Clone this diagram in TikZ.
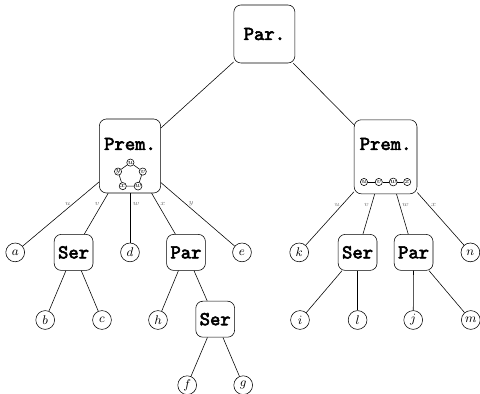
\documentclass[tikz,border=0pt]{standalone}
\usepackage{fontspec}
\newfontfamily\opfont{lmmono10-regular.otf}[FakeBold=3]
\tikzset{
  op/.style={draw, rounded corners=5pt, minimum width=0.97cm, minimum height=0.9cm,
    inner sep=1pt, font=\opfont\fontsize{14}{16}\selectfont},
  optext/.style={inner sep=0pt, font=\opfont\fontsize{14}{16}\selectfont},
  leaf/.style={draw, circle, minimum size=0.47cm, inner sep=0pt, font=\small},
  dot/.style={draw, circle, minimum size=0.18cm, inner sep=0pt, font=\fontsize{3.5}{4}\selectfont},
  lbl/.style={inner sep=1.5pt, text=black!55, font=\fontsize{5.5}{6}\selectfont},
}
\begin{document}
\begin{tikzpicture}
        \useasboundingbox (0,0) rectangle (12,-9.85);

        % root and the two prime nodes
        \node[op, minimum width=1.525cm, minimum height=1.45cm] (par) at ( 6.61,-0.85) {Par.};
        \node[op, minimum width=1.53cm, minimum height=1.85cm] (premL) at ( 3.25,-3.90) {};
        \node[op, minimum width=1.57cm, minimum height=1.85cm] (premR) at ( 9.64,-3.92) {};
        \node[optext] (premLt) at ( 3.25,-3.60) {Prem.};
        \node[optext] (premRt) at ( 9.64,-3.60) {Prem.};

        % quotient graphs inside the prime nodes
        \foreach \n/\a in {u/90,v/18,w/-54,x/-126,y/162}
          \path (3.26,-4.39) ++(\a:0.325) node[dot] (gL\n) {$\n$};
        \draw (gLu) -- (gLv) -- (gLw) -- (gLx) -- (gLy) -- (gLu);

        \node[dot] (gRu) at ( 9.10,-4.55) {$u$};
        \node[dot] (gRv) at ( 9.47,-4.55) {$v$};
        \node[dot] (gRw) at ( 9.83,-4.55) {$w$};
        \node[dot] (gRx) at (10.18,-4.55) {$x$};
        \draw (gRu) -- (gRv) -- (gRw) -- (gRx);

        % second level
        \node[leaf] (a)    at ( 0.38,-6.31) {$a$};
        \node[op]   (serL) at ( 1.84,-6.31) {Ser};
        \node[leaf] (d)    at ( 3.25,-6.31) {$d$};
        \node[op]   (parL) at ( 4.65,-6.31) {Par};
        \node[leaf] (e)    at ( 6.05,-6.31) {$e$};
        \node[leaf] (k)    at ( 7.48,-6.31) {$k$};
        \node[op]   (serR) at ( 8.94,-6.31) {Ser};
        \node[op]   (parR) at (10.34,-6.31) {Par};
        \node[leaf] (n)    at (11.76,-6.31) {$n$};

        % third level
        \node[leaf] (b)     at ( 1.13,-8.00) {$b$};
        \node[leaf] (c)     at ( 2.55,-8.00) {$c$};
        \node[leaf] (h)     at ( 3.95,-8.00) {$h$};
        \node[op]   (serL2) at ( 5.38,-7.98) {Ser};
        \node[leaf] (i)     at ( 7.50,-8.00) {$i$};
        \node[leaf] (l)     at ( 8.94,-8.00) {$l$};
        \node[leaf] (j)     at (10.33,-8.00) {$j$};
        \node[leaf] (m)     at (11.77,-8.00) {$m$};

        % fourth level
        \node[leaf] (f) at ( 4.68,-9.63) {$f$};
        \node[leaf] (g) at ( 6.08,-9.63) {$g$};

        \draw (par) to (premL);
        \draw (par) to (premR);

        \draw (premL) to node[lbl, left,  pos=0.34] {$u$} (a);
        \draw (premL) to node[lbl, left,  pos=0.26] {$v$} (serL);
        \draw (premL) to node[lbl, right, pos=0.22] {$w$} (d);
        \draw (premL) to node[lbl, right, pos=0.26] {$x$} (parL);
        \draw (premL) to node[lbl, right, pos=0.34] {$y$} (e);

        \draw (premR) to node[lbl, left,  pos=0.24] {$u$} (k);
        \draw (premR) to node[lbl, left,  pos=0.26] {$v$} (serR);
        \draw (premR) to node[lbl, right, pos=0.26] {$w$} (parR);
        \draw (premR) to node[lbl, right, pos=0.24] {$x$} (n);

        \draw (serL) to (b);
        \draw (serL) to (c);
        \draw (parL) to (h);
        \draw (parL) to (serL2);
        \draw (serL2) to (f);
        \draw (serL2) to (g);
        \draw (serR) to (i);
        \draw (serR) to (l);
        \draw (parR) to (j);
        \draw (parR) to (m);
      \end{tikzpicture}
\end{document}
